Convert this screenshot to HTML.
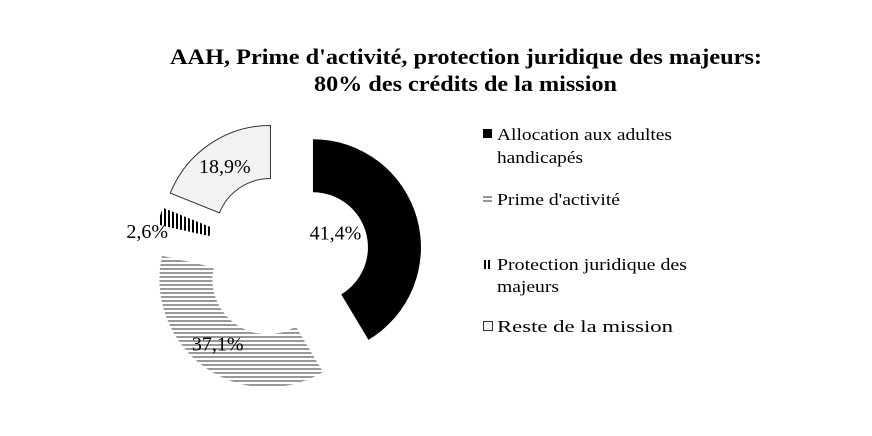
<!DOCTYPE html>
<html><head><meta charset="utf-8">
<style>
body{margin:0;background:#fff;}
svg{display:block;font-family:"Liberation Serif",serif;}
</style></head>
<body>
<svg id="chart" width="872" height="436" viewBox="0 0 872 436">
<defs>
<pattern id="hstripe" width="6" height="4" patternUnits="userSpaceOnUse"><rect width="6" height="4" fill="#fff"/><rect y="0" width="6" height="2" fill="#999"/></pattern>
<pattern id="vstripe" width="4" height="6" patternUnits="userSpaceOnUse"><rect width="4" height="6" fill="#fff"/><rect x="0" width="2" height="6" fill="#000"/></pattern>
</defs>
<text x="170" y="64" textLength="592" lengthAdjust="spacingAndGlyphs" font-size="22" font-weight="bold">AAH, Prime d'activité, protection juridique des majeurs:</text>
<text x="314" y="91" textLength="303" lengthAdjust="spacingAndGlyphs" font-size="22" font-weight="bold">80% des crédits de la mission</text>
<g id="slices"></g>
<g id="labels"></g>
<g font-size="17">
<rect x="483" y="129" width="9" height="9" fill="#000"/>
<text x="497" y="140" textLength="175" lengthAdjust="spacingAndGlyphs">Allocation aux adultes</text>
<text x="497" y="163" textLength="86" lengthAdjust="spacingAndGlyphs">handicapés</text>
<rect x="483" y="196" width="9" height="2" fill="#999"/>
<rect x="483" y="200" width="9" height="2" fill="#999"/>
<text x="497" y="205" textLength="123" lengthAdjust="spacingAndGlyphs">Prime d'activité</text>
<rect x="483" y="260" width="9" height="9" fill="url(#vstripe)"/>
<text x="497" y="270" textLength="190" lengthAdjust="spacingAndGlyphs">Protection juridique des</text>
<text x="497" y="292" textLength="62" lengthAdjust="spacingAndGlyphs">majeurs</text>
<rect x="483.5" y="321.5" width="9" height="9" fill="#f2f2f2" stroke="#333"/>
<text x="497" y="332" textLength="176" lengthAdjust="spacingAndGlyphs">Reste de la mission</text>
</g>
</svg>
<script>
const categories = ["Allocation aux adultes handicapés","Prime d'activité","Protection juridique des majeurs","Reste de la mission"];
const values = [41.4, 37.1, 2.6, 18.9];
const labels = ["41,4%","37,1%","2,6%","18,9%"];
const explode = [29, 30, 23, 26];
const fills = ["#000","url(#hstripe)","url(#vstripe)","#f2f2f2"];
const strokes = ["none","none","none","#333"];
const slugs = ["aah","prime","protection","reste"];
const labelOffsets = [[-56,8],[-2,-1],[-38,8],[0,1]];
const cx = 285, cy = 255, R = 108, r = 55;
const NS = "http://www.w3.org/2000/svg";
const total = values.reduce((a,b)=>a+b,0);
function pt(x,y,rad,a){return [x+rad*Math.sin(a), y-rad*Math.cos(a)];}
let acc = 0;
const gS = document.getElementById('slices'), gL = document.getElementById('labels');
values.forEach((v,i)=>{
  const a0 = acc/total*2*Math.PI, a1 = (acc+v)/total*2*Math.PI; acc += v;
  const mid = (a0+a1)/2;
  const ox = cx + explode[i]*Math.sin(mid), oy = cy - explode[i]*Math.cos(mid);
  const p1 = pt(ox,oy,R,a0), p2 = pt(ox,oy,R,a1), p3 = pt(ox,oy,r,a1), p4 = pt(ox,oy,r,a0);
  const large = (a1-a0) > Math.PI ? 1 : 0;
  const d = `M${p1[0]},${p1[1]} A${R},${R} 0 ${large} 1 ${p2[0]},${p2[1]} L${p3[0]},${p3[1]} A${r},${r} 0 ${large} 0 ${p4[0]},${p4[1]} Z`;
  const path = document.createElementNS(NS,'path');
  path.setAttribute('d', d);
  path.setAttribute('fill', fills[i]);
  path.setAttribute('stroke', strokes[i]);
  
  
  gS.appendChild(path);
  const lp = pt(ox,oy,(R+r)/2,mid);
  const t = document.createElementNS(NS,'text');
  t.setAttribute('x', lp[0] + labelOffsets[i][0]);
  t.setAttribute('y', lp[1] + labelOffsets[i][1] + 6);
  t.setAttribute('text-anchor','middle');
  t.setAttribute('font-size','20');
  t.textContent = labels[i];
  
  
  gL.appendChild(t);
});
</script>
</body></html>
